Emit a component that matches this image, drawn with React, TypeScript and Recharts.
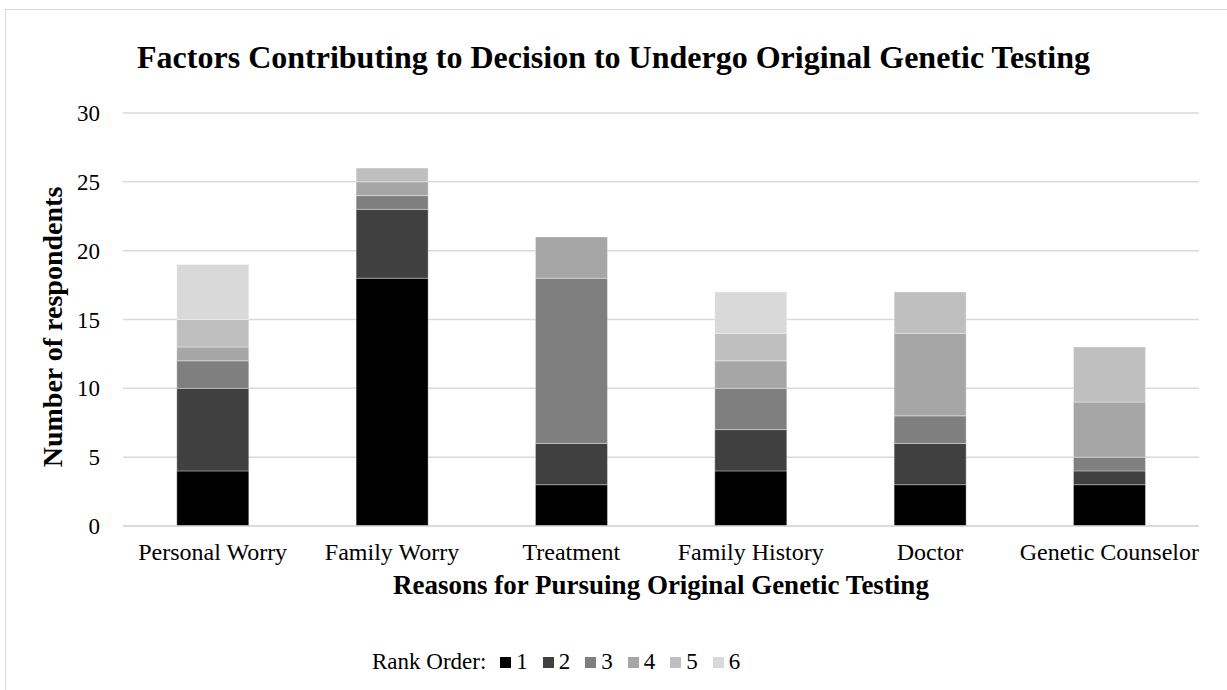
import { BarChart, Bar, XAxis, YAxis, CartesianGrid } from "recharts";

const categories = ["Personal Worry", "Family Worry", "Treatment", "Family History", "Doctor", "Genetic Counselor"];
const rank1 = [4, 18, 3, 4, 3, 3];
const rank2 = [6, 5, 3, 3, 3, 1];
const rank3 = [2, 1, 12, 3, 2, 1];
const rank4 = [1, 1, 3, 2, 6, 4];
const rank5 = [2, 1, 0, 2, 3, 4];
const rank6 = [4, 0, 0, 3, 0, 0];
const yTicks = [0, 5, 10, 15, 20, 25, 30];

const ranks = [
  { key: "r1", name: "1", values: rank1, color: "#000000" },
  { key: "r2", name: "2", values: rank2, color: "#404040" },
  { key: "r3", name: "3", values: rank3, color: "#7f7f7f" },
  { key: "r4", name: "4", values: rank4, color: "#a6a6a6" },
  { key: "r5", name: "5", values: rank5, color: "#bfbfbf" },
  { key: "r6", name: "6", values: rank6, color: "#d9d9d9" },
];

const data = categories.map((name, i) => {
  const row: Record<string, string | number> = { name };
  ranks.forEach((r) => (row[r.key] = r.values[i]));
  return row;
});

const font = "'Liberation Serif', 'Times New Roman', serif";

const RankLegend = () => (
  <div style={{ display: "flex", alignItems: "center", fontFamily: font, fontSize: 23, color: "#000", lineHeight: "26px" }}>
    <span style={{ marginRight: 14 }}>Rank Order:</span>
    {ranks.map((r) => (
      <span key={r.key} style={{ display: "flex", alignItems: "center", marginRight: 15 }}>
        <span style={{ width: 11, height: 11, background: r.color, display: "inline-block", marginRight: 5 }} />
        {r.name}
      </span>
    ))}
  </div>
);

export default function App() {
  return (
    <div style={{ position: "absolute", left: 0, top: 0, width: 1227, height: 690, overflow: "hidden", background: "#fff" }}>
      <div
        style={{
          position: "absolute",
          left: 5,
          top: 9,
          width: 1240,
          height: 700,
          border: "1.5px solid #d9d9d9",
          boxSizing: "border-box",
        }}
      />
      <div
        style={{
          position: "absolute",
          left: 0,
          width: 1227,
          top: 39,
          textAlign: "center",
          fontFamily: font,
          fontWeight: "bold",
          fontSize: 32,
          lineHeight: "36px",
        }}
      >
        Factors Contributing to Decision to Undergo Original Genetic Testing
      </div>
      <div
        style={{
          position: "absolute",
          left: 53,
          top: 327,
          transform: "translate(-50%, -50%) rotate(-90deg)",
          whiteSpace: "nowrap",
          fontFamily: font,
          fontWeight: "bold",
          fontSize: 28,
        }}
      >
        Number of respondents
      </div>
      <div style={{ position: "absolute", left: 0, top: 0 }}>
        <BarChart
          width={1227}
          height={690}
          data={data}
          margin={{ top: 113, right: 28, bottom: 134, left: 93 }}
          barCategoryGap="30%"
        >
          <CartesianGrid vertical={false} stroke="#d9d9d9" strokeWidth={1.5} />
          <XAxis
            dataKey="name"
            axisLine={{ stroke: "#d9d9d9", strokeWidth: 1.5 }}
            tickLine={false}
            tickMargin={11}
            tick={{ fill: "#000", fontFamily: font, fontSize: 24 }}
            interval={0}
            label={{
              value: "Reasons for Pursuing Original Genetic Testing",
              position: "bottom",
              offset: 19,
              fill: "#000",
              fontFamily: font,
              fontWeight: "bold",
              fontSize: 27,
            }}
          />
          <YAxis
            width={30}
            domain={[0, 30]}
            ticks={yTicks}
            axisLine={false}
            tickLine={false}
            tickMargin={17}
            tick={{ fill: "#000", fontFamily: font, fontSize: 23 }}
          />
          {ranks.map((r) => (
            <Bar
              key={r.key}
              dataKey={r.key}
              name={r.name}
              stackId="a"
              fill={r.color}
              stroke="rgba(255,255,255,0.35)"
              strokeWidth={1}
              isAnimationActive={false}
            />
          ))}
        </BarChart>
      </div>
      <div style={{ position: "absolute", left: 372, top: 649 }}>
        <RankLegend />
      </div>
    </div>
  );
}
